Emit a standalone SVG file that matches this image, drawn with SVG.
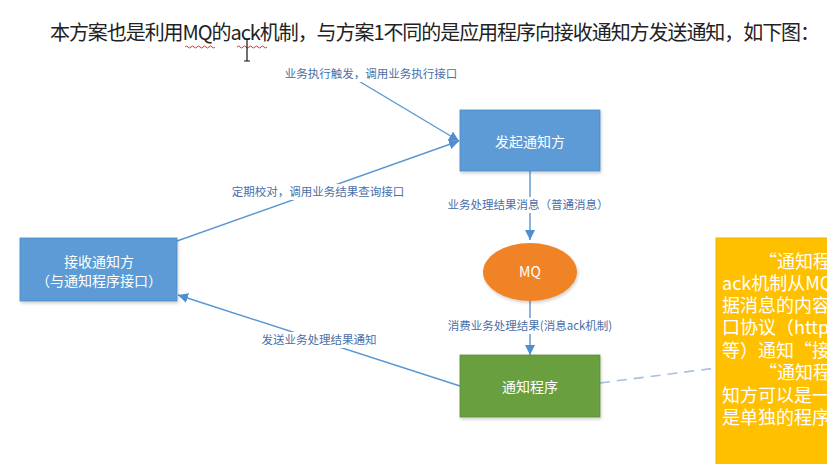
<svg xmlns="http://www.w3.org/2000/svg" width="827" height="464" viewBox="0 0 827 464">
<defs>
<marker id="arr" viewBox="0 0 10 10" refX="10" refY="5" markerWidth="10" markerHeight="10" markerUnits="userSpaceOnUse" orient="auto">
<path d="M0,0 L10,5 L0,10 z" fill="#4F8ED0"/>
</marker>
<filter id="sh" x="-10%" y="-10%" width="130%" height="130%">
<feDropShadow dx="1" dy="2" stdDeviation="1.5" flood-color="#000" flood-opacity="0.18"/>
</filter>
</defs>
<style>
.cjk{font-family:"Noto Sans CJK SC","Liberation Sans",sans-serif;}
.title{font-size:20px;fill:#222;}
.lbl{font-size:11.5px;fill:#4A6FA8;}
.nodetxt{font-size:14px;fill:#fff;}
.conn{stroke:#5A96D2;stroke-width:1.4;fill:none;}
.note{font-size:18px;fill:#fff;}
</style>
<rect width="827" height="464" fill="#fff"/>

<g id="title">
<text class="cjk title" x="50" y="40" textLength="770" lengthAdjust="spacing">本方案也是利用MQ的ack机制，与方案1不同的是应用程序向接收通知方发送通知，如下图：</text>
<path d="M185,47 q1.5,-2 3,0 t3,0 t3,0 t3,0 t3,0 t3,0 t3,0 t3,0 t3,0 t3,0" stroke="#E03030" stroke-width="1" fill="none"/>
<path d="M237,47 q1.5,-2 3,0 t3,0 t3,0 t3,0 t3,0 t3,0 t3,0 t3,0 t3,0 t3,0" stroke="#E03030" stroke-width="1" fill="none"/>
<path d="M244,39 h3 M250,39 h-3 M247,39 v22 M244,61 h6" stroke="#111" stroke-width="1.2" fill="none"/>
</g>

<g id="connectors">
<line class="conn" x1="357" y1="80" x2="459" y2="141" marker-end="url(#arr)"/>
<line class="conn" x1="177" y1="241" x2="459" y2="141" marker-end="url(#arr)"/>
<line class="conn" x1="530" y1="171" x2="530" y2="240" marker-end="url(#arr)"/>
<line class="conn" x1="530" y1="301" x2="530" y2="355" marker-end="url(#arr)"/>
<line class="conn" x1="460" y1="386" x2="178" y2="295" marker-end="url(#arr)"/>
<line x1="600" y1="383" x2="716" y2="368" stroke="#A8BEE2" stroke-width="1.6" stroke-dasharray="10 7"/>
<rect x="280" y="66" width="182" height="16" fill="#fff"/>
<text class="cjk lbl" x="371" y="78" text-anchor="middle">业务执行触发，调用业务执行接口</text>
<rect x="227" y="184" width="182" height="16" fill="#fff"/>
<text class="cjk lbl" x="318" y="196" text-anchor="middle">定期校对，调用业务结果查询接口</text>
<rect x="446" y="197" width="165" height="16" fill="#fff"/>
<text class="cjk lbl" x="528" y="209" text-anchor="middle">业务处理结果消息（普通消息）</text>
<rect x="446" y="318" width="170" height="16" fill="#fff"/>
<text class="cjk lbl" x="530" y="330" text-anchor="middle">消费业务处理结果(消息ack机制)</text>
<rect x="258" y="332" width="122" height="16" fill="#fff"/>
<text class="cjk lbl" x="319" y="344" text-anchor="middle">发送业务处理结果通知</text>
</g>

<g id="node-initiator">
<rect x="460" y="110" width="140" height="61" fill="#5B9BD5" stroke="#4A87C2" stroke-width="0.8" filter="url(#sh)"/>
<text class="cjk nodetxt" x="530" y="147" text-anchor="middle">发起通知方</text>
</g>

<g id="node-receiver">
<rect x="20" y="238" width="157" height="63" fill="#5B9BD5" stroke="#4A87C2" stroke-width="0.8" filter="url(#sh)"/>
<text class="cjk nodetxt" x="99" y="267" text-anchor="middle" font-size="13.5">接收通知方</text>
<text class="cjk nodetxt" x="99" y="286" text-anchor="middle" font-size="13.5">（与通知程序接口）</text>
</g>

<g id="node-mq">
<ellipse cx="530" cy="272" rx="47" ry="29" fill="#F08328" filter="url(#sh)"/>
<text class="cjk nodetxt" x="530" y="277" text-anchor="middle">MQ</text>
</g>

<g id="node-notifier">
<rect x="460" y="355" width="140" height="62" fill="#6A9F3F" stroke="#5C8D35" stroke-width="0.8" filter="url(#sh)"/>
<text class="cjk nodetxt" x="530" y="392" text-anchor="middle">通知程序</text>
</g>

<g id="node-note">
<rect x="716" y="238" width="120" height="240" fill="#FFC000" stroke="#F0B400" stroke-width="1"/>
<text class="cjk note" x="759" y="268">“通知程序</text>
<text class="cjk note" x="722" y="290">ack机制从MQ</text>
<text class="cjk note" x="722" y="312">据消息的内容</text>
<text class="cjk note" x="722" y="334">口协议（http.</text>
<text class="cjk note" x="722" y="357">等）通知“接</text>
<text class="cjk note" x="759" y="379">“通知程序</text>
<text class="cjk note" x="722" y="402">知方可以是一</text>
<text class="cjk note" x="722" y="424">是单独的程序</text>
</g>
</svg>
